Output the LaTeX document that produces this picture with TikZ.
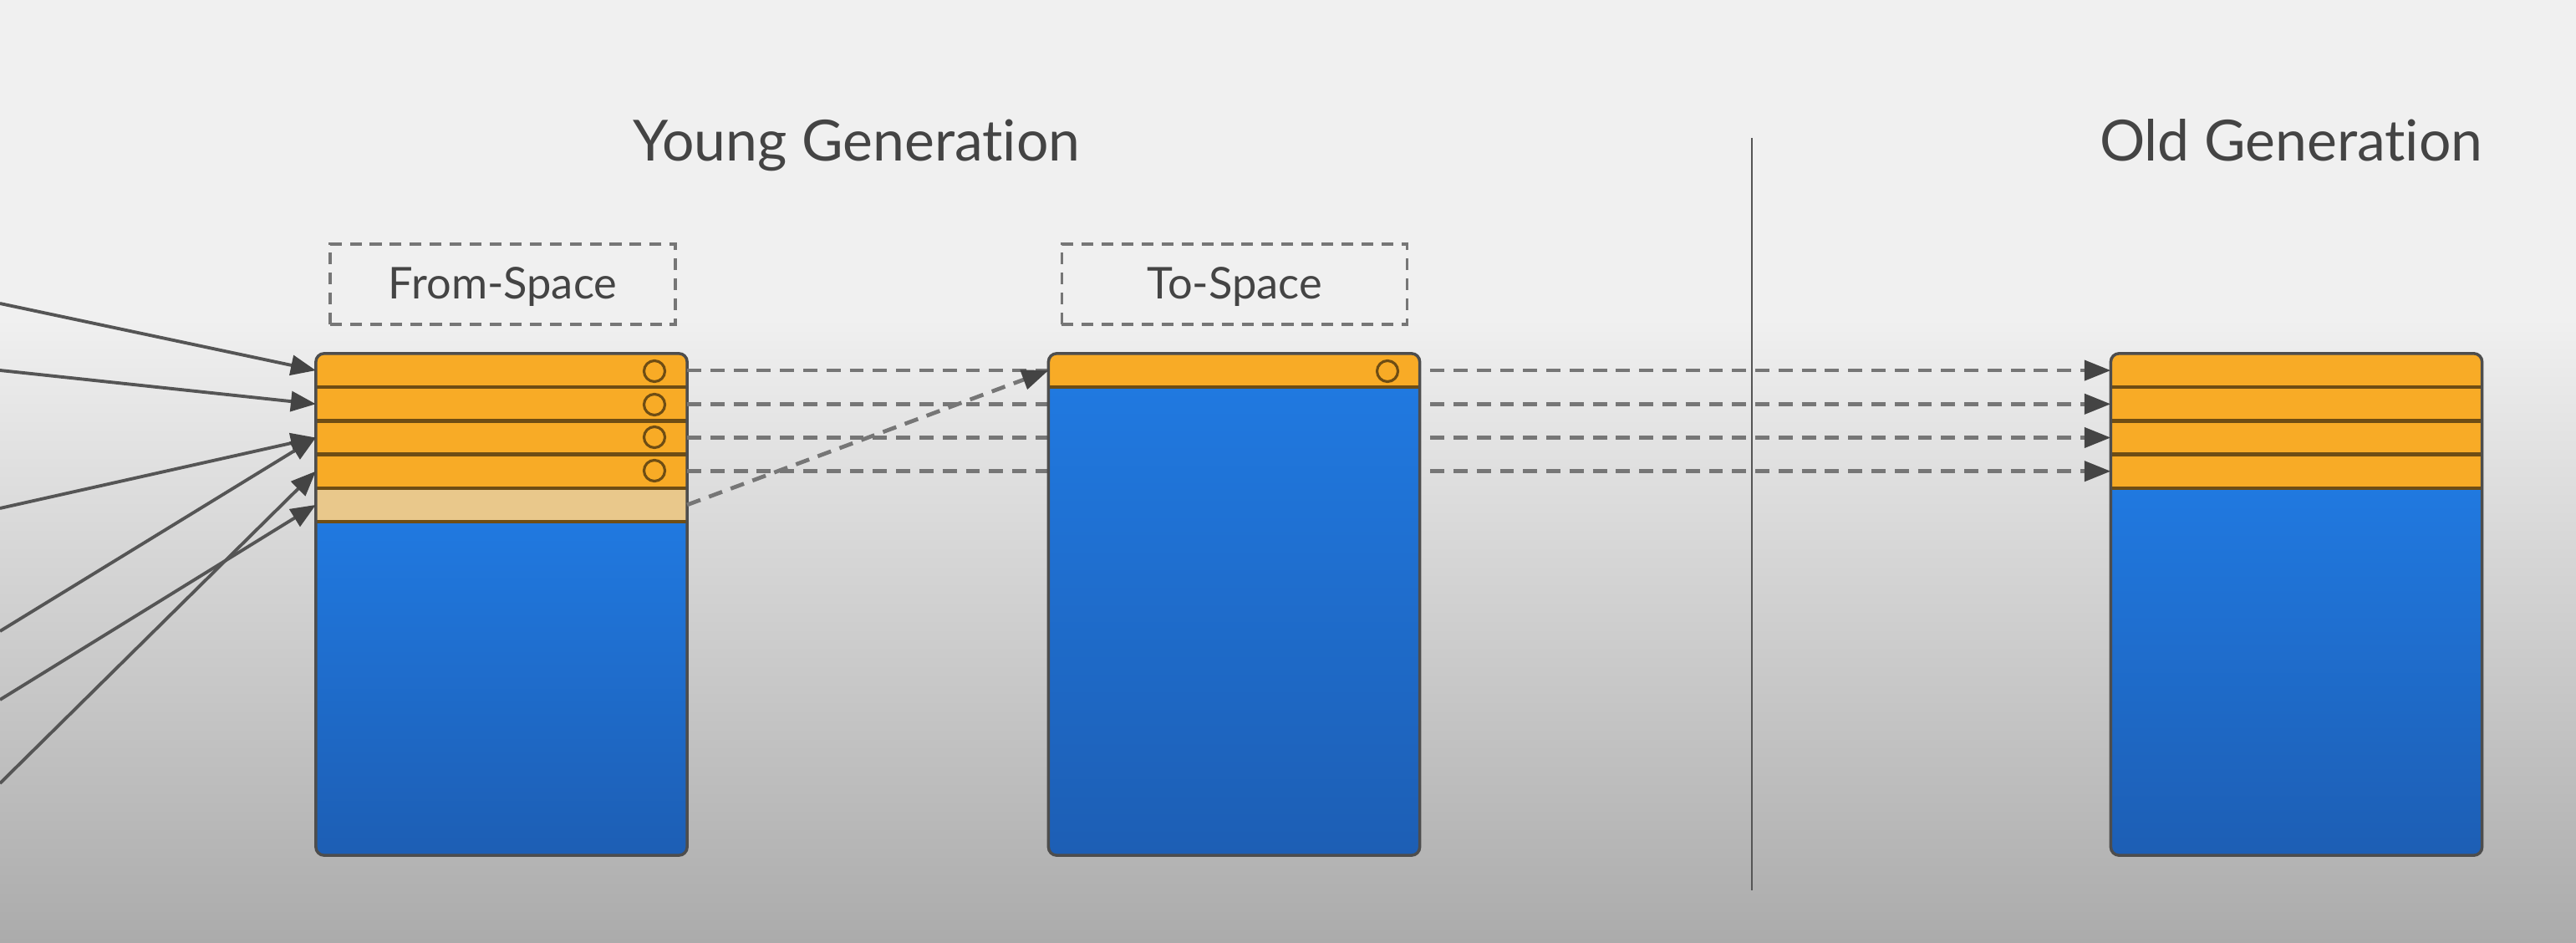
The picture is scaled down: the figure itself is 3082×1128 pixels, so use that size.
\documentclass[tikz,border=0pt]{standalone}
\usepackage{fontspec}
\setmainfont{Lato}[Ligatures=NoCommon]
\usetikzlibrary{arrows.meta}
\definecolor{bgtop}{HTML}{F0F0F0}
\definecolor{bgmid}{HTML}{D9D9D9}
\definecolor{bgbot}{HTML}{ABABAB}
\definecolor{orangerow}{HTML}{F8AB26}
\definecolor{tanrow}{HTML}{E9C88B}
\definecolor{bluetop}{HTML}{2079E0}
\definecolor{bluebot}{HTML}{1D5EB4}
\definecolor{brownline}{HTML}{6E4D14}
\definecolor{boxedge}{HTML}{4D4D4D}
\definecolor{txt}{HTML}{444444}
\definecolor{dashgray}{HTML}{767676}
\definecolor{arrgray}{HTML}{555555}
\definecolor{tipgray}{HTML}{444444}
\begin{document}
\begin{tikzpicture}[x=0.01cm,y=-0.01cm,
  heap/.style={rectangle, inner sep=0pt, outer sep=0pt, minimum width=4.44cm, minimum height=6cm},
  objrow/.style={rectangle, inner sep=0pt, outer sep=0pt, minimum width=4.44cm, minimum height=0.402cm, fill=orangerow},
  freerow/.style={objrow, fill=tanrow},
  emptyarea/.style={rectangle, inner sep=0pt, outer sep=0pt, minimum width=4.44cm, top color=bluetop, bottom color=bluebot},
  refmark/.style={circle, draw=brownline, line width=0.9pt, minimum size=0.25cm, inner sep=0pt},
  divider/.style={draw=brownline, line width=1.2pt},
  heapedge/.style={draw=boxedge, line width=1pt, rounded corners=0.1cm},
  title/.style={font=\fontsize{19.3}{23}\selectfont, text=txt, inner sep=0pt},
  spacelabel/.style={draw=dashgray, line width=1pt, dash pattern=on 4pt off 2.8pt, minimum width=4.13cm, minimum height=0.96cm, inner sep=0pt, text height=0.37cm, text depth=0.03cm, font=\fontsize{14.9}{18}\selectfont, text=txt},
  rootref/.style={draw=arrgray, line width=1.1pt, -{Triangle[length=8.5pt,width=6.8pt,color=tipgray]}},
  copyref/.style={draw=dashgray, line width=1.35pt, dash pattern=on 4.8pt off 3.1pt, -{Triangle[length=9pt,width=6.8pt,color=tipgray]}},
  divideline/.style={draw=arrgray, line width=0.7pt},
]
\useasboundingbox (0,0) rectangle (3082,1128);
\fill[bgtop] (0,0) rectangle (3082,381);
\shade[top color=bgtop, middle color=bgmid, bottom color=bgbot] (0,380) rectangle (3082,1128);

% titles
\node[title, anchor=base] (young) at (1025,193) {Young Generation};
\node[title, anchor=base east] (old) at (2971,193) {Old Generation};
\node[spacelabel] (fromlbl) at (601.5,340) {From-Space};
\node[spacelabel] (tolbl) at (1477,340) {To-Space};

% From-Space heap
\node[heap] (fheap) at (600,723) {};
\begin{scope}
\clip[rounded corners=0.1cm] (fheap.north west) rectangle (fheap.south east);
\node[objrow] (f1) at (600,443.1) {};
\node[objrow] (f2) at (600,483.3) {};
\node[objrow] (f3) at (600,523.5) {};
\node[objrow] (f4) at (600,563.7) {};
\node[freerow] (f5) at (600,603.9) {};
\node[emptyarea, minimum height=4cm] (fe) at (600,824) {};
\end{scope}
\foreach \r in {f1,f2,f3,f4,f5} {\draw[divider] (\r.south west) -- (\r.south east);}
\draw[heapedge] (fheap.north west) rectangle (fheap.south east);
\node[refmark] (fc1) at (783,444) {};
\node[refmark] (fc2) at (783,484) {};
\node[refmark] (fc3) at (783,523) {};
\node[refmark] (fc4) at (783,563) {};

% Old generation heap
\node[heap] (oheap) at (2747.5,723) {};
\begin{scope}
\clip[rounded corners=0.1cm] (oheap.north west) rectangle (oheap.south east);
\node[objrow] (o1) at (2747.5,443.1) {};
\node[objrow] (o2) at (2747.5,483.3) {};
\node[objrow] (o3) at (2747.5,523.5) {};
\node[objrow] (o4) at (2747.5,563.7) {};
\node[emptyarea, minimum height=4.42cm] (oe) at (2747.5,804.5) {};
\end{scope}
\foreach \r in {o1,o2,o3,o4} {\draw[divider] (\r.south west) -- (\r.south east);}
\draw[heapedge] (oheap.north west) rectangle (oheap.south east);

% promotion copies (dashed)
\draw[copyref] (f1.east) -- (o1.west);
\draw[copyref] (f2.east) -- (o2.west);
\draw[copyref] (f3.east) -- (o3.west);
\draw[copyref] (f4.east) -- (o4.west);

% To-Space heap
\node[heap] (theap) at (1476.5,723) {};
\begin{scope}
\clip[rounded corners=0.1cm] (theap.north west) rectangle (theap.south east);
\node[objrow] (t1) at (1476.5,443.1) {};
\node[emptyarea, minimum height=5.62cm] (te) at (1476.5,744) {};
\end{scope}
\draw[divider] (t1.south west) -- (t1.south east);
\draw[heapedge] (theap.north west) rectangle (theap.south east);
\node[refmark] (tc1) at (1660,444) {};

\draw[copyref] (f5.east) -- (t1.west);

% generation divider
\coordinate (dtop) at (2096,165);
\coordinate (dbot) at (2096,1065);
\draw[divideline] (dtop) -- (dbot);

% root references
\coordinate (s1) at (0,363);
\coordinate (s2) at (0,443);
\coordinate (s3) at (0,608);
\coordinate (s4) at (0,755);
\coordinate (s5) at (0,937);
\coordinate (s6) at (0,837);
\draw[rootref] (s1) -- (f1.west);
\draw[rootref] (s2) -- (f2.west);
\draw[rootref] (s3) -- (f3.west);
\draw[rootref] (s4) -- (f3.west);
\draw[rootref] (s5) -- (f4.west);
\draw[rootref] (s6) -- (f5.west);
\end{tikzpicture}
\end{document}
